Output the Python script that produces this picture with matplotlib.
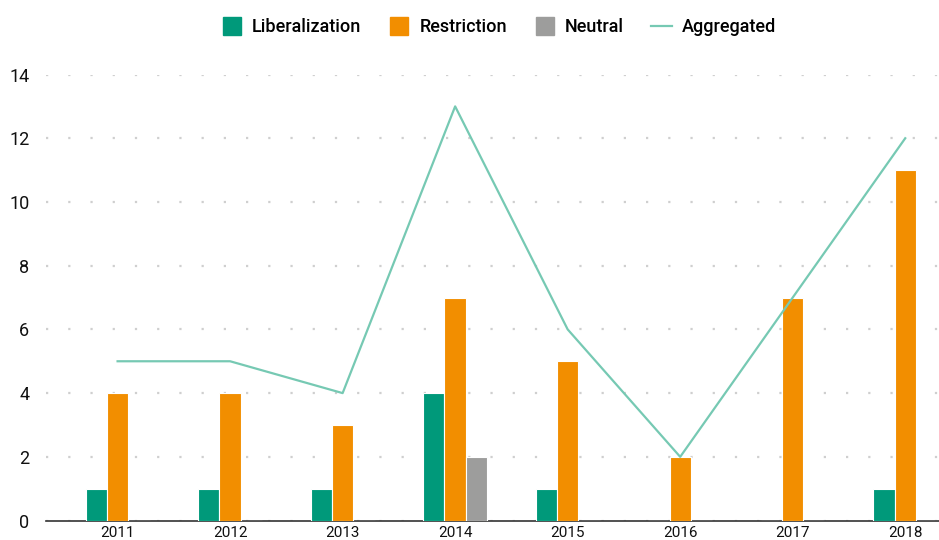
import numpy as np
import matplotlib
matplotlib.use('Agg')
import matplotlib.pyplot as plt
from matplotlib.lines import Line2D

plt.rcParams['font.family'] = ['Roboto', 'DejaVu Sans']

years = ['2011', '2012', '2013', '2014', '2015', '2016', '2017', '2018']
liberalization = [1, 1, 1, 4, 1, 0, 0, 1]
restriction = [4, 4, 3, 7, 5, 2, 7, 11]
neutral = [0, 0, 0, 2, 0, 0, 0, 0]
aggregated = [5, 5, 4, 13, 6, 2, 7, 12]

c_lib = '#00997a'
c_res = '#f28e00'
c_neu = '#9d9d9c'
c_agg = '#76c9b3'

fig = plt.figure(figsize=(9.39, 5.4), dpi=100)
ax = fig.add_axes([0.049, 0.036, 0.951, 0.826])

x = np.arange(len(years))
w = 0.19
ax.bar(x - w, liberalization, w, color=c_lib, edgecolor='white', linewidth=0.8, zorder=3)
ax.bar(x, restriction, w, color=c_res, edgecolor='white', linewidth=0.8, zorder=3)
ax.bar(x + w, neutral, w, color=c_neu, edgecolor='white', linewidth=0.8, zorder=3)
ax.plot(x, aggregated, color=c_agg, linewidth=1.6, zorder=4)

ax.set_xlim(-0.636, 7.30)
ax.set_ylim(0, 14)
ax.set_yticks(range(0, 15, 2))
ax.set_xticks(x)
ax.set_xticklabels(years)
ax.tick_params(axis='both', length=0, labelcolor='#111111')
ax.tick_params(axis='y', labelsize=13, pad=12)
ax.tick_params(axis='x', labelsize=11, pad=4)

ax.grid(axis='y', color='#cfcfcf', linestyle=(0, (1, 9)), linewidth=1.6)
ax.set_axisbelow(True)
for s in ['top', 'right', 'left']:
    ax.spines[s].set_visible(False)
ax.spines['bottom'].set_color('#333333')
ax.spines['bottom'].set_linewidth(1.2)

handles = [
    Line2D([], [], marker='s', linestyle='none', markersize=13, color=c_lib),
    Line2D([], [], marker='s', linestyle='none', markersize=13, color=c_res),
    Line2D([], [], marker='s', linestyle='none', markersize=13, color=c_neu),
    Line2D([], [], color=c_agg, linewidth=1.6),
]
labels = ['Liberalization', 'Restriction', 'Neutral', 'Aggregated']
fig.legend(handles, labels, loc='center', bbox_to_anchor=(0.531, 0.95), ncol=4,
           frameon=False, handlelength=1.2, handletextpad=0.5,
           columnspacing=1.5, prop={'size': 13, 'weight': 'medium'})

fig.savefig('out.png', dpi=100)
